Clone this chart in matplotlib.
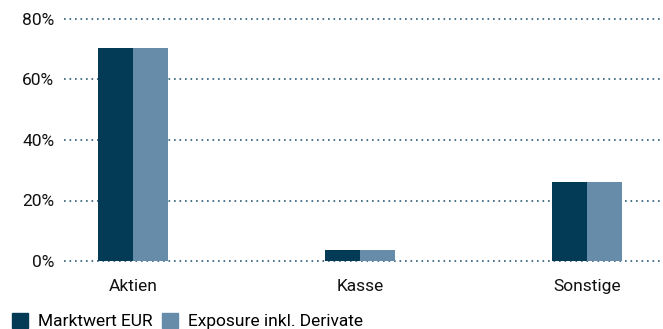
import matplotlib
matplotlib.use('Agg')
import matplotlib.pyplot as plt
import numpy as np
from matplotlib.patches import Patch

categories = ["Aktien", "Kasse", "Sonstige"]
marktwert = [70.5, 3.5, 26.0]
exposure = [70.5, 3.5, 26.0]
yticks = [0, 20, 40, 60, 80]

DARK = "#033a56"
LIGHT = "#668caa"
GRID = "#2d5c78"

plt.rcParams['font.family'] = ['Roboto', 'DejaVu Sans']

fig = plt.figure(figsize=(6.63, 3.29), dpi=100)
W, H = 663, 329
ax = fig.add_axes([64 / W, 1 - 261 / H, 1 - 64 / W, (261 - 19) / H])

x = np.arange(len(categories))
bw = 0.153
ax.bar(x - bw / 2, marktwert, width=bw, color=DARK, zorder=3)
ax.bar(x + bw / 2, exposure, width=bw, color=LIGHT, zorder=3)

ax.set_xlim(-0.304, 2.335)
ax.set_ylim(0, 80)
ax.set_yticks(yticks)
ax.set_yticklabels([f"{v}%" for v in yticks])
for v in yticks:
    ax.axhline(v, color=GRID, linestyle=(0, (1, 2.3)), linewidth=1.2,
               clip_on=False, zorder=1)

ax.set_xticks(x)
ax.set_xticklabels(categories)
ax.tick_params(axis='both', length=0, labelsize=12.5, colors='#111111')
ax.tick_params(axis='y', pad=7)
ax.tick_params(axis='x', pad=13)
for s in ax.spines.values():
    s.set_visible(False)

handles = [Patch(color=DARK, label="Marktwert EUR"),
           Patch(color=LIGHT, label="Exposure inkl. Derivate")]
fig.legend(handles=handles, loc='lower left', bbox_to_anchor=(0.007, -0.022),
           ncol=2, frameon=False, fontsize=12.5, handlelength=0.95,
           handleheight=0.95, handletextpad=0.55, columnspacing=0.55,
           borderaxespad=0)

fig.savefig("out.png", dpi=100)
